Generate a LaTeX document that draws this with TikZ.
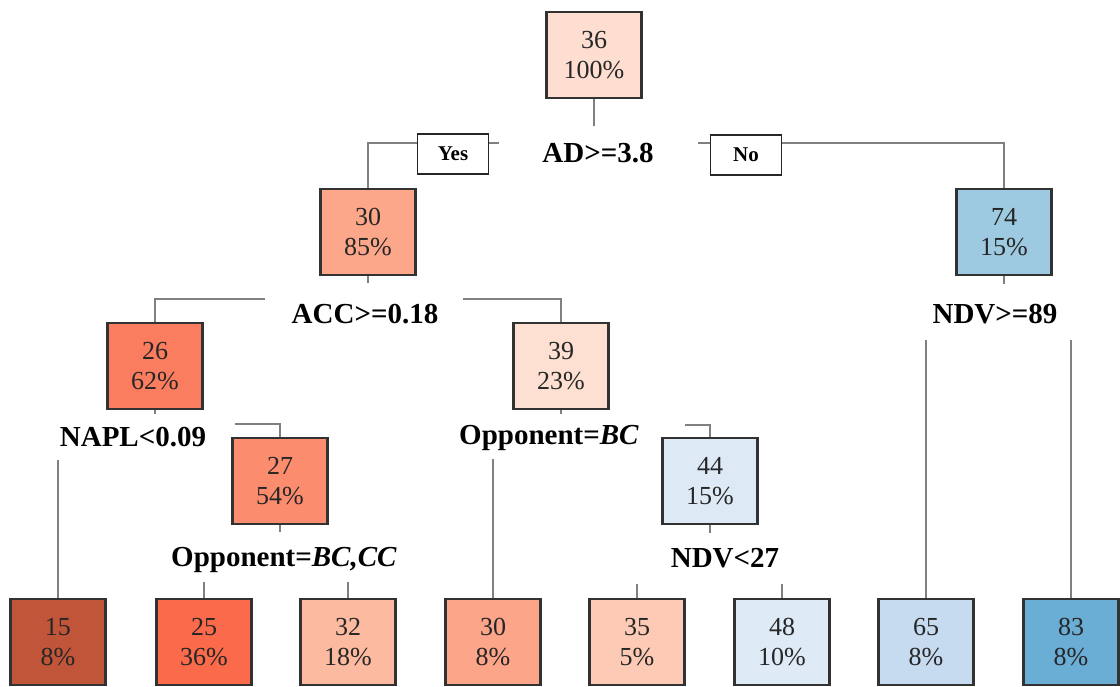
\documentclass[tikz,border=0pt]{standalone}
\usepackage{fontspec}
\setmainfont{Liberation Serif}
\definecolor{cR0}{RGB}{253,222,208}
\definecolor{cR1}{RGB}{252,166,138}
\definecolor{cR2}{RGB}{250,125,95}
\definecolor{cR3}{RGB}{252,140,110}
\definecolor{cR4}{RGB}{253,224,210}
\definecolor{cB1}{RGB}{221,234,246}
\definecolor{cB2}{RGB}{158,202,225}
\definecolor{cL1}{RGB}{193,85,58}
\definecolor{cL2}{RGB}{251,106,74}
\definecolor{cL3}{RGB}{252,187,161}
\definecolor{cL4}{RGB}{252,165,136}
\definecolor{cL5}{RGB}{253,202,181}
\definecolor{cL6}{RGB}{222,235,247}
\definecolor{cL7}{RGB}{198,219,239}
\definecolor{cL8}{RGB}{106,174,214}
\definecolor{edge}{RGB}{128,128,128}
\definecolor{bord}{RGB}{50,50,50}
\tikzset{
  treebox/.style={draw=bord, line width=2.2pt, minimum width=95pt, minimum height=86pt,
    inner sep=0pt, align=center, text=black!85,
    font=\fontsize{26}{30}\selectfont},
  splitlbl/.style={inner sep=1pt, font=\fontsize{29}{32}\selectfont\bfseries},
  yesno/.style={draw=black!85, fill=white, line width=1.5pt, minimum width=71pt,
    minimum height=40pt, inner sep=0pt, font=\fontsize{21}{24}\selectfont\bfseries},
  conn/.style={draw=edge, line width=1.8pt}
}
\begin{document}
\begin{tikzpicture}[x=1pt,y=-1pt]
\useasboundingbox (0,0) rectangle (1120,686);
% boxes
\node[treebox, fill=cR0] (root) at (594,55) {36\\100\%};
\node[treebox, fill=cR1] (n30) at (368,232) {30\\85\%};
\node[treebox, fill=cB2] (n74) at (1004,232) {74\\15\%};
\node[treebox, fill=cR2] (n26) at (155,366) {26\\62\%};
\node[treebox, fill=cR4] (n39) at (561,366) {39\\23\%};
\node[treebox, fill=cR3] (n27) at (280,481) {27\\54\%};
\node[treebox, fill=cB1] (n44) at (710,481) {44\\15\%};
\node[treebox, fill=cL1] (l1) at (58,642) {15\\8\%};
\node[treebox, fill=cL2] (l2) at (204,642) {25\\36\%};
\node[treebox, fill=cL3] (l3) at (348,642) {32\\18\%};
\node[treebox, fill=cL4] (l4) at (493,642) {30\\8\%};
\node[treebox, fill=cL5] (l5) at (637,642) {35\\5\%};
\node[treebox, fill=cL6] (l6) at (782,642) {48\\10\%};
\node[treebox, fill=cL7] (l7) at (926,642) {65\\8\%};
\node[treebox, fill=cL8] (l8) at (1071,642) {83\\8\%};
% split labels
\node[splitlbl] (sAD) at (598,153) {AD>=3.8};
\node[splitlbl] (sACC) at (365,314) {ACC>=0.18};
\node[splitlbl] (sNAPL) at (133,437) {NAPL<0.09};
\node[splitlbl] (sOpp1) at (549,438) {Opponent=\textit{BC}};
\node[splitlbl] (sOpp2) at (284,560) {Opponent=\textit{BC,CC}};
\node[splitlbl] (sNDV1) at (725,558) {NDV<27};
\node[splitlbl] (sNDV2) at (995,314) {NDV>=89};
% stubs below boxes
\coordinate (rs) at (594,126);
\coordinate (s30) at (368,283);
\coordinate (s74) at (1004,284);
\coordinate (s26) at (155,414);
\coordinate (s39) at (561,414);
\coordinate (s27) at (280,532);
\coordinate (s44) at (710,533);
\draw[conn] (root.south) -- (rs);
\draw[conn] (n30.south) -- (s30);
\draw[conn] (n74.south) -- (s74);
\draw[conn] (n26.south) -- (s26);
\draw[conn] (n39.south) -- (s39);
\draw[conn] (n27.south) -- (s27);
\draw[conn] (n44.south) -- (s44);
% branch starts
\coordinate (yR) at (499,143);
\coordinate (nL) at (698,143);
\coordinate (accL) at (265,299);
\coordinate (accR) at (463,299);
\coordinate (napL) at (58,460);
\coordinate (napR) at (235,424);
\coordinate (op1L) at (493,459);
\coordinate (op1R) at (685,425);
\coordinate (op2L) at (204,582);
\coordinate (op2R) at (348,582);
\coordinate (nd1L) at (637,584);
\coordinate (nd1R) at (782,584);
\coordinate (nd2L) at (926,340);
\coordinate (nd2R) at (1071,340);
\draw[conn] (yR) -| (n30.north);
\draw[conn] (nL) -| (n74.north);
\draw[conn] (accL) -| (n26.north);
\draw[conn] (accR) -| (n39.north);
\draw[conn] (napL) -- (l1.north);
\draw[conn] (napR) -| (n27.north);
\draw[conn] (op1L) -- (l4.north);
\draw[conn] (op1R) -| (n44.north);
\draw[conn] (op2L) -- (l2.north);
\draw[conn] (op2R) -- (l3.north);
\draw[conn] (nd1L) -- (l5.north);
\draw[conn] (nd1R) -- (l6.north);
\draw[conn] (nd2L) -- (l7.north);
\draw[conn] (nd2R) -- (l8.north);
% yes / no
\node[yesno] (yes) at (453,154) {Yes};
\node[yesno] (no) at (746,155) {No};
\end{tikzpicture}
\end{document}
